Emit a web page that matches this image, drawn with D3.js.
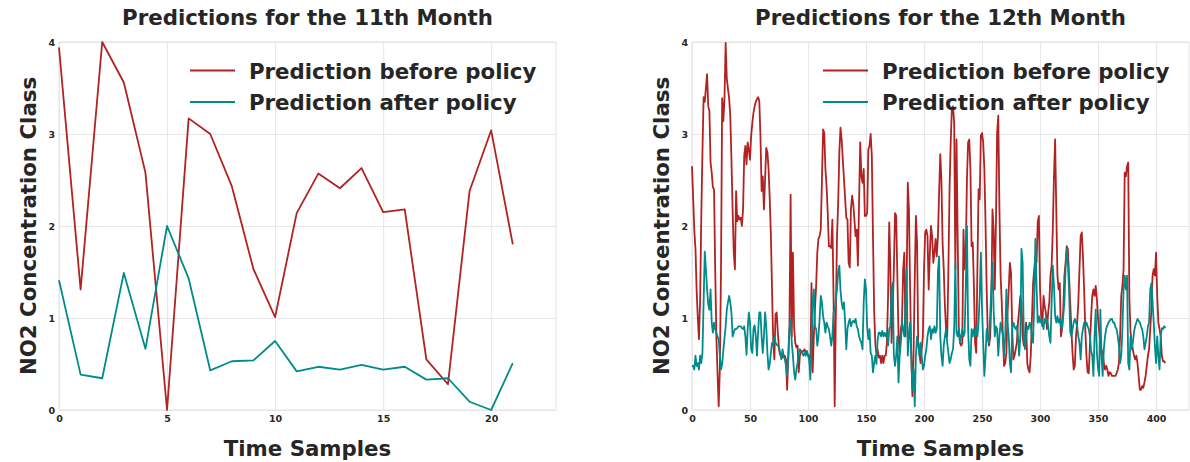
<!DOCTYPE html>
<html>
<head>
<meta charset="utf-8">
<script src="https://cdn.jsdelivr.net/npm/d3@7"></script>
<style>
  html, body { margin: 0; padding: 0; background: #ffffff; }
  svg { display: block; font-family: "DejaVu Sans", sans-serif; }
  .tick text { font-weight: bold; fill: #262626; }
</style>
</head>
<body>
<svg id="chart" width="1190" height="462"></svg>
<script>
// ---- data -----------------------------------------------------------
const titles = ["Predictions for the 11th Month", "Predictions for the 12th Month"];
const seriesNames = ["Prediction before policy", "Prediction after policy"];
const seriesColors = ["#b22222", "#008b8b"];
const yTicks = [0, 1, 2, 3, 4];
const xTicks11 = [0, 5, 10, 15, 20];
const xTicks12 = [0, 50, 100, 150, 200, 250, 300, 350, 400];

const month11Before = [3.94, 1.31, 4.00, 3.56, 2.58, 0.00, 3.17, 3.00, 2.43, 1.53, 1.01,
  2.14, 2.57, 2.41, 2.63, 2.15, 2.18, 0.55, 0.28, 2.38, 3.04, 1.80];
const month11After = [1.41, 0.385, 0.345, 1.49, 0.665, 2.00, 1.43, 0.43, 0.53, 0.54, 0.75,
  0.42, 0.47, 0.44, 0.49, 0.44, 0.47, 0.33, 0.345, 0.09, 0.00, 0.51];

const month12Before = [
  2.65, 2.30, 1.95, 1.75, 1.30, 1.00, 0.77, 1.20, 2.10, 2.80,
  3.40, 3.35, 3.50, 3.65, 3.30, 3.25, 2.69, 2.58, 2.42, 2.40,
  1.53, 0.80, 0.40, 0.04, 0.44, 1.53, 3.39, 3.14, 3.38, 3.99,
  3.60, 3.49, 3.39, 3.20, 2.72, 2.18, 1.71, 1.53, 2.38, 2.05,
  2.11, 2.07, 2.09, 2.00, 2.18, 2.76, 2.87, 2.67, 2.91, 2.83,
  2.72, 2.98, 3.12, 3.23, 3.30, 3.35, 3.38, 3.40, 3.36, 2.98,
  2.38, 2.54, 2.18, 2.51, 2.85, 2.80, 2.62, 2.30, 1.90, 1.30,
  0.75, 0.55, 1.04, 1.06, 0.84, 0.66, 0.60, 0.59, 0.57, 0.59,
  0.59, 0.55, 0.22, 0.59, 0.91, 2.34, 0.80, 1.71, 0.91, 0.73,
  0.68, 0.70, 0.41, 0.59, 0.64, 0.64, 0.64, 0.66, 0.62, 0.64,
  0.59, 0.59, 0.44, 1.38, 0.41, 0.80, 1.10, 1.35, 1.71, 1.86,
  1.89, 1.96, 2.50, 3.05, 3.01, 2.62, 2.43, 2.14, 1.78, 1.78,
  1.76, 2.07, 1.24, 0.04, 1.06, 1.89, 2.25, 2.80, 3.07, 2.94,
  2.72, 2.51, 2.30, 2.09, 2.07, 1.60, 1.55, 2.18, 2.33, 2.24,
  2.07, 1.89, 1.96, 1.57, 2.25, 2.91, 2.54, 2.47, 2.62, 2.11,
  2.11, 2.14, 2.83, 2.87, 3.00, 2.76, 1.89, 1.09, 0.73, 0.59,
  0.66, 0.57, 0.59, 0.51, 0.59, 0.51, 0.59, 0.59, 0.73, 1.24,
  2.04, 1.53, 0.73, 1.09, 1.53, 2.14, 2.11, 1.46, 0.80, 0.62,
  0.88, 0.95, 1.53, 1.71, 0.80, 1.38, 2.47, 2.18, 1.31, 0.60,
  0.15, 0.62, 1.42, 2.11, 1.82, 0.70, 0.62, 0.51, 0.66, 0.80,
  1.53, 1.93, 1.96, 1.89, 1.31, 1.70, 2.00, 1.89, 1.60, 1.71,
  1.86, 1.67, 1.89, 2.36, 2.78, 2.50, 1.82, 1.53, 1.13, 0.88,
  0.80, 1.53, 2.40, 2.91, 3.27, 3.30, 3.12, 1.53, 2.94, 1.89,
  0.88, 0.73, 0.70, 0.73, 1.96, 1.53, 1.71, 2.51, 2.91, 2.94,
  2.62, 1.78, 1.82, 1.35, 0.73, 0.62, 1.53, 2.40, 2.29, 2.98,
  3.01, 2.91, 2.62, 2.04, 1.31, 0.80, 0.70, 0.79, 1.17, 2.18,
  1.96, 1.31, 2.04, 3.01, 3.20, 2.18, 1.46, 1.17, 0.80, 0.48,
  0.51, 0.62, 1.06, 1.31, 1.60, 1.49, 0.88, 0.55, 0.59, 0.66,
  0.73, 0.95, 1.09, 1.24, 1.17, 0.80, 0.70, 0.80, 0.95, 0.51,
  0.44, 0.41, 0.59, 0.99, 1.38, 1.53, 1.67, 1.60, 2.04, 2.11,
  1.31, 1.02, 0.91, 1.24, 1.13, 1.06, 0.88, 1.06, 1.17, 1.46,
  1.57, 1.96, 2.54, 2.94, 2.18, 1.46, 1.31, 1.38, 0.80, 0.88,
  1.09, 1.46, 1.60, 1.78, 1.75, 1.46, 1.17, 0.88, 0.62, 0.44,
  0.48, 0.80, 0.95, 1.17, 1.53, 1.89, 1.93, 1.67, 1.31, 0.88,
  0.59, 0.41, 0.40, 0.70, 1.00, 1.24, 1.31, 1.24, 1.35, 1.20,
  0.99, 0.85, 0.73, 0.65, 0.62, 0.51, 0.44, 0.48, 0.44, 0.37,
  0.41, 0.40, 0.37, 0.37, 0.37, 0.37, 0.40, 0.44, 0.51, 0.80,
  1.24, 1.35, 1.53, 2.58, 2.54, 2.65, 2.69, 1.20, 0.85, 0.73,
  0.66, 0.59, 0.55, 0.59, 0.51, 0.37, 0.22, 0.22, 0.26, 0.24,
  0.30, 0.37, 0.48, 0.59, 0.66, 0.88, 1.09, 1.46, 1.53, 1.46,
  1.71, 1.24, 0.95, 0.88, 0.80, 0.59, 0.53, 0.53, 0.51
];

const month12After = [
  0.48, 0.48, 0.44, 0.59, 0.48, 0.51, 0.44, 0.59, 0.51, 0.62,
  1.17, 1.72, 1.53, 1.31, 1.15, 1.09, 1.31, 0.95, 0.84, 0.95,
  0.88, 0.84, 0.80, 0.76, 0.59, 0.44, 0.50, 0.65, 0.78, 0.91,
  1.09, 1.17, 1.24, 1.17, 1.06, 0.80, 0.84, 0.88, 0.88, 0.89,
  0.91, 0.91, 0.91, 0.89, 0.88, 0.91, 0.80, 0.60, 0.88, 1.06,
  0.95, 0.66, 0.62, 0.88, 0.92, 0.80, 0.59, 0.85, 1.06, 1.06,
  0.80, 0.62, 0.80, 1.06, 0.91, 0.62, 0.44, 0.50, 0.62, 0.73,
  0.70, 0.80, 0.73, 0.71, 0.70, 0.68, 0.62, 0.55, 0.66, 0.59,
  0.55, 0.48, 0.37, 0.55, 0.88, 0.99, 0.73, 0.59, 0.41, 0.33,
  0.44, 0.51, 0.62, 0.66, 0.64, 0.62, 0.59, 0.62, 0.59, 0.64,
  0.59, 0.55, 0.33, 0.73, 1.17, 1.31, 0.91, 0.88, 0.70, 0.80,
  0.99, 1.24, 1.17, 1.02, 0.95, 0.84, 0.95, 0.91, 0.88, 0.80,
  0.70, 0.80, 1.06, 1.09, 1.20, 1.31, 1.50, 1.57, 1.30, 1.17,
  1.10, 1.17, 0.95, 0.66, 0.88, 0.95, 0.99, 0.91, 0.95, 0.97,
  0.95, 0.99, 0.91, 0.88, 0.80, 0.76, 0.73, 0.66, 1.17, 1.42,
  1.31, 0.90, 0.77, 0.88, 0.62, 0.59, 0.41, 0.51, 0.59, 0.50,
  0.76, 0.84, 0.84, 0.80, 0.86, 0.80, 0.84, 0.80, 0.84, 0.70,
  0.88, 0.91, 1.31, 1.38, 0.59, 0.48, 0.59, 0.80, 0.30, 0.59,
  0.73, 0.95, 0.88, 0.80, 1.17, 1.53, 0.59, 0.80, 0.95, 0.59,
  0.22, 0.44, 0.04, 0.59, 0.80, 0.73, 0.59, 0.73, 0.59, 0.44,
  0.48, 0.59, 0.66, 0.80, 0.88, 0.91, 0.77, 0.88, 0.84, 0.91,
  0.84, 0.88, 1.50, 1.67, 0.80, 0.59, 0.48, 0.70, 0.80, 0.88,
  0.73, 0.62, 0.51, 0.55, 0.62, 0.66, 0.88, 1.60, 0.84, 0.80,
  0.88, 0.73, 0.80, 0.88, 0.80, 0.84, 1.35, 2.00, 0.88, 0.55,
  0.48, 0.88, 0.80, 0.88, 0.80, 0.91, 0.80, 0.95, 1.24, 1.71,
  1.10, 0.73, 0.37, 0.59, 0.88, 0.77, 0.73, 1.02, 1.31, 1.60,
  1.09, 0.80, 0.91, 0.88, 0.59, 0.80, 0.95, 0.88, 0.80, 0.59,
  0.80, 1.31, 0.95, 0.80, 0.51, 0.41, 0.88, 0.95, 0.91, 0.88,
  0.91, 0.80, 0.59, 0.80, 1.75, 1.60, 0.80, 0.66, 0.80, 0.91,
  0.88, 0.95, 0.91, 0.80, 0.73, 1.17, 1.86, 1.35, 0.95, 1.02,
  0.95, 0.99, 0.95, 0.88, 0.99, 0.95, 0.99, 0.91, 0.80, 0.73,
  1.17, 1.57, 1.35, 1.02, 0.95, 1.02, 0.95, 0.99, 0.91, 0.88,
  1.02, 1.17, 1.53, 1.75, 1.60, 1.31, 0.85, 0.80, 0.88, 0.95,
  0.99, 0.95, 0.91, 0.80, 0.73, 0.55, 0.80, 0.88, 0.95, 0.91,
  0.95, 0.91, 0.88, 0.80, 0.65, 0.59, 0.37, 0.80, 1.09, 0.62,
  0.45, 0.37, 1.09, 0.59, 0.37, 0.66, 0.80, 0.88, 0.92, 0.95,
  0.97, 0.99, 0.99, 0.95, 0.95, 0.90, 0.88, 0.80, 0.70, 0.51,
  0.59, 0.88, 1.31, 1.46, 1.31, 1.46, 0.51, 0.44, 0.80, 0.66,
  0.73, 0.85, 0.91, 0.95, 0.99, 0.97, 0.95, 0.91, 0.88, 0.80,
  0.66, 0.73, 0.80, 0.91, 0.95, 1.31, 1.38, 1.17, 0.95, 0.70,
  0.51, 0.80, 0.59, 0.44, 0.80, 0.89, 0.88, 0.91, 0.89
];

// ---- layout ---------------------------------------------------------
const svg = d3.select("#chart");
const plotTop = 42, plotBottom = 410, plotW = 497;
const panels = [
  { left: 59, title: titles[0], xMax: 23, xTicks: xTicks11, series: [month11Before, month11After] },
  { left: 692, title: titles[1], xMax: 428.4, xTicks: xTicks12, series: [month12Before, month12After] }
];
const textColor = "#262626";
const bigFont = 21.3;

panels.forEach(p => {
  const x = d3.scaleLinear().domain([0, p.xMax]).range([p.left, p.left + plotW]);
  const y = d3.scaleLinear().domain([0, 4]).range([plotBottom, plotTop]);
  const g = svg.append("g");

  // grid + tick labels from the axes
  const gx = g.append("g")
    .attr("transform", `translate(0,${plotBottom})`)
    .call(d3.axisBottom(x).tickValues(p.xTicks).tickFormat(d3.format("d"))
      .tickSizeInner(-(plotBottom - plotTop)).tickSizeOuter(0).tickPadding(5));
  const gy = g.append("g")
    .attr("transform", `translate(${p.left},0)`)
    .call(d3.axisLeft(y).tickValues(yTicks).tickFormat(d3.format("d"))
      .tickSizeInner(-plotW).tickSizeOuter(0).tickPadding(4));
  [gx, gy].forEach(ax => {
    ax.select(".domain").remove();
    ax.selectAll(".tick line").attr("stroke", "#e6e6e6").attr("stroke-width", 1);
    ax.selectAll(".tick text").attr("font-size", 9.5).attr("font-family", "DejaVu Sans");
  });

  // plot frame
  g.append("rect")
    .attr("x", p.left).attr("y", plotTop)
    .attr("width", plotW).attr("height", plotBottom - plotTop)
    .attr("fill", "none").attr("stroke", "#e3e3e3").attr("stroke-width", 1);

  // series lines
  const line = d3.line().x((d, i) => x(i)).y(d => y(d));
  p.series.forEach((vals, k) => {
    g.append("path")
      .datum(vals)
      .attr("d", line)
      .attr("fill", "none")
      .attr("stroke", seriesColors[k])
      .attr("stroke-width", 1.8)
      .attr("stroke-linejoin", "round");
  });

  // legend
  seriesNames.forEach((name, k) => {
    const ly = 70.5 + k * 31.5;
    g.append("line")
      .attr("x1", p.left + 131).attr("x2", p.left + 176)
      .attr("y1", ly).attr("y2", ly)
      .attr("stroke", seriesColors[k]).attr("stroke-width", 2);
    g.append("text")
      .attr("x", p.left + 190).attr("y", ly + 8)
      .attr("font-size", bigFont).attr("font-weight", "bold")
      .attr("fill", textColor)
      .text(name);
  });

  // title and axis labels
  const cx = p.left + plotW / 2;
  g.append("text")
    .attr("x", cx).attr("y", 25)
    .attr("text-anchor", "middle")
    .attr("font-size", bigFont).attr("font-weight", "bold")
    .attr("fill", textColor)
    .text(p.title);
  g.append("text")
    .attr("x", cx).attr("y", 456)
    .attr("text-anchor", "middle")
    .attr("font-size", bigFont).attr("font-weight", "bold")
    .attr("fill", textColor)
    .text("Time Samples");
  g.append("text")
    .attr("transform", `translate(${p.left - 23},${(plotTop + plotBottom) / 2}) rotate(-90)`)
    .attr("text-anchor", "middle")
    .attr("font-size", bigFont).attr("font-weight", "bold")
    .attr("fill", textColor)
    .text("NO2 Concentration Class");
});
</script>
</body>
</html>
